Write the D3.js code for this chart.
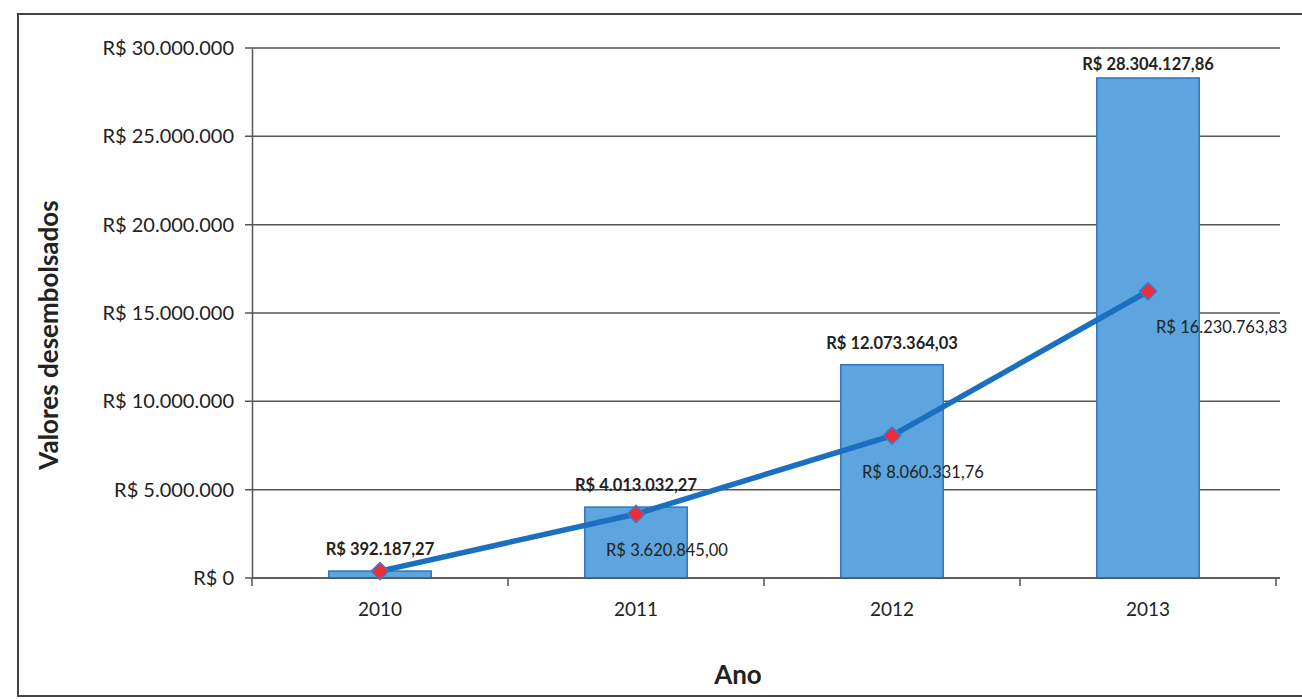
<!DOCTYPE html>
<html>
<head>
<meta charset="utf-8">
<script src="https://cdn.jsdelivr.net/npm/d3@7"></script>
<style>
  body { margin: 0; background: #fff; }
  text { font-family: Lato, "Open Sans", sans-serif; fill: #222; }
</style>
</head>
<body>
<svg></svg>
<script>
let anos = ['2010', '2011', '2012', '2013']
let barras = [392187.27, 4013032.27, 12073364.03, 28304127.86]
let linha = [392187.27, 3620845.00, 8060331.76, 16230763.83]
let rotBarras = ['R$ 392.187,27', 'R$ 4.013.032,27', 'R$ 12.073.364,03', 'R$ 28.304.127,86']
let rotLinha = ['', 'R$ 3.620.845,00', 'R$ 8.060.331,76', 'R$ 16.230.763,83']
let yTicks = [0, 5000000, 10000000, 15000000, 20000000, 25000000, 30000000]

let width = 1302
let height = 699
let plotLeft = 252
let plotRight = 1276
let plotTop = 48
let plotBottom = 578

let svg = d3.select('svg')
svg.attr('width', width).attr('height', height)

// moldura
svg.append('rect')
    .attr('x', 18).attr('y', 14)
    .attr('width', 1300).attr('height', 682)
    .attr('fill', 'none')
    .attr('stroke', '#444')
    .attr('stroke-width', 2)

let xScale = d3.scaleBand()
    .domain(anos)
    .range([plotLeft, plotRight])
    .paddingInner(0.6)
    .paddingOuter(0.3)

let xBand = d3.scaleBand().domain(anos).range([plotLeft, plotRight])

let yScale = d3.scaleLinear()
    .domain([0, 30000000])
    .range([plotBottom, plotTop])

let fmt = (v) => v == 0 ? 'R$ 0' : 'R$ ' + d3.format(',')(v).replace(/,/g, '.')

// grade
svg.append('g')
    .selectAll('line')
    .data(yTicks)
    .enter()
    .append('line')
    .attr('x1', plotLeft - 7)
    .attr('x2', plotRight + 4)
    .attr('y1', (d) => yScale(d))
    .attr('y2', (d) => yScale(d))
    .attr('stroke', '#555')
    .attr('stroke-width', 1.5)

// eixo y
let yAxis = d3.axisLeft(yScale).tickValues(yTicks).tickFormat(fmt).tickSize(0).tickPadding(18)
let gy = svg.append('g')
    .attr('transform', 'translate(' + plotLeft + ',0)')
    .call(yAxis)
gy.select('.domain').attr('stroke', '#555').attr('stroke-width', 1.5)
gy.selectAll('text').style('font-size', '20px').attr('fill', '#222')

// barras
svg.selectAll('rect.bar')
    .data(barras)
    .enter()
    .append('rect')
    .attr('class', 'bar')
    .attr('x', (d, i) => xScale(anos[i]))
    .attr('y', (d) => yScale(d))
    .attr('width', xScale.bandwidth())
    .attr('height', (d) => plotBottom - yScale(d))
    .attr('fill', '#5DA5DE')
    .attr('stroke', '#2E76BA')
    .attr('stroke-width', 1.5)

// eixo x
svg.append('line')
    .attr('x1', plotLeft).attr('x2', plotRight + 4)
    .attr('y1', plotBottom).attr('y2', plotBottom)
    .attr('stroke', '#555').attr('stroke-width', 1.5)

svg.append('g')
    .selectAll('line')
    .data(anos.concat(['fim']))
    .enter()
    .append('line')
    .attr('x1', (d, i) => plotLeft + i * xBand.bandwidth())
    .attr('x2', (d, i) => plotLeft + i * xBand.bandwidth())
    .attr('y1', plotBottom)
    .attr('y2', plotBottom + 8)
    .attr('stroke', '#555')
    .attr('stroke-width', 1.5)

svg.append('g')
    .selectAll('text')
    .data(anos)
    .enter()
    .append('text')
    .attr('x', (d) => xBand(d) + xBand.bandwidth() / 2)
    .attr('y', plotBottom + 38)
    .attr('text-anchor', 'middle')
    .style('font-size', '19px')
    .text((d) => d)

// linha
let cx = (i) => xBand(anos[i]) + xBand.bandwidth() / 2
let line = d3.line()
    .x((d, i) => cx(i))
    .y((d) => yScale(d))

svg.append('path')
    .datum(linha)
    .attr('d', line)
    .attr('fill', 'none')
    .attr('stroke', '#1A6FC0')
    .attr('stroke-width', 5.5)

svg.selectAll('path.mark')
    .data(linha)
    .enter()
    .append('path')
    .attr('class', 'mark')
    .attr('d', d3.symbol().type(d3.symbolDiamond2).size(190))
    .attr('transform', (d, i) => 'translate(' + cx(i) + ',' + yScale(d) + ')')
    .attr('fill', '#EE2B3B')
    .attr('stroke', '#3C7CC4')
    .attr('stroke-width', 1.5)

// rótulos
svg.selectAll('text.rb')
    .data(barras)
    .enter()
    .append('text')
    .attr('class', 'rb')
    .attr('x', (d, i) => xScale(anos[i]) + xScale.bandwidth() / 2)
    .attr('y', (d, i) => yScale(d) - (i == 3 ? 8 : 16))
    .attr('text-anchor', 'middle')
    .style('font-size', '16.5px')
    .style('font-weight', 'bold')
    .text((d, i) => rotBarras[i])

// último rótulo fica à direita do marcador, os demais logo abaixo
svg.selectAll('text.rl')
    .data(linha)
    .enter()
    .append('text')
    .attr('class', 'rl')
    .attr('x', (d, i) => i == 3 ? cx(i) + 8 : cx(i) - 30)
    .attr('y', (d) => yScale(d) + 42)
    .style('font-size', '16.5px')
    .text((d, i) => rotLinha[i])

// títulos
svg.append('text')
    .attr('transform', 'translate(58,335) rotate(-90)')
    .attr('text-anchor', 'middle')
    .style('font-size', '26px')
    .style('font-weight', 'bold')
    .text('Valores desembolsados')

svg.append('text')
    .attr('x', 738)
    .attr('y', 684)
    .attr('text-anchor', 'middle')
    .style('font-size', '26px')
    .style('font-weight', 'bold')
    .text('Ano')
</script>
</body>
</html>
